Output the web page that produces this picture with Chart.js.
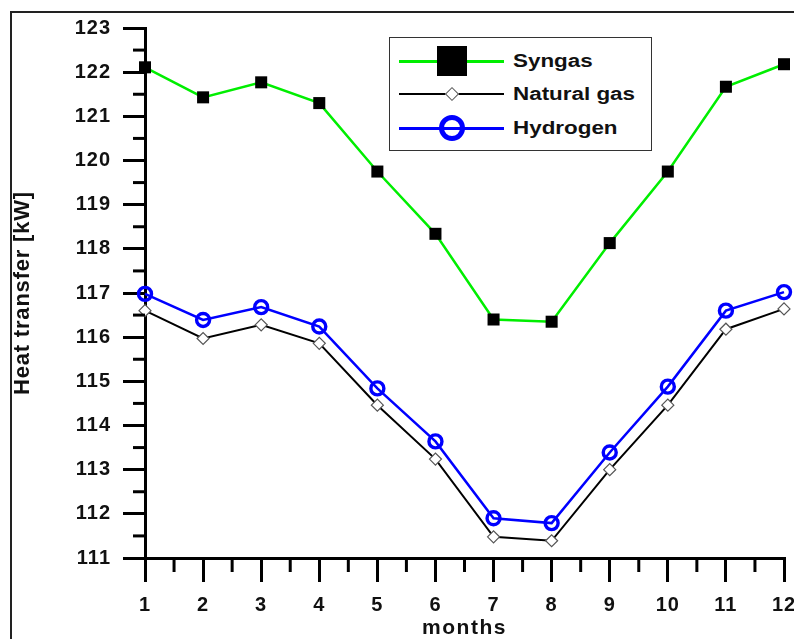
<!DOCTYPE html>
<html><head><meta charset="utf-8">
<script src="https://cdn.jsdelivr.net/npm/chart.js@4/dist/chart.umd.min.js"></script>
<style>
html,body{margin:0;padding:0;background:#fff;}
#wrap{position:relative;width:794px;height:639px;overflow:hidden;background:#fff;}
#frame{position:absolute;left:10px;top:11px;width:900px;height:900px;border:2px solid #222;box-sizing:border-box;}
#c{position:absolute;left:0;top:0;}
#legend{position:absolute;left:389px;top:37px;width:263px;height:114px;border:1.5px solid #333;box-sizing:border-box;background:#fff;font-family:'Liberation Sans',Arial,sans-serif;font-weight:bold;color:#111;}
.row{position:absolute;left:0;width:100%;height:0;}
.ln{position:absolute;left:9px;width:105px;height:3px;top:-1.5px;}
.mk{position:absolute;box-sizing:border-box;}
.tx{position:absolute;left:123px;top:-11px;font-size:17.5px;line-height:22px;white-space:nowrap;transform:scaleX(1.28);transform-origin:left center;}
</style>
</head><body>
<div id="wrap">
<div id="frame"></div>
<canvas id="c" width="794" height="639"></canvas>
<div id="legend">
  <div class="row" style="top:23px"><div class="ln" style="background:#00ee00"></div><div class="mk" style="left:47px;top:-15px;width:30px;height:30px;background:#000"></div><div class="tx">Syngas</div></div>
  <div class="row" style="top:56px"><div class="ln" style="background:#000;height:2.5px"></div><div class="mk" style="left:57px;top:-5px;width:10px;height:10px;background:#fff;border:1.3px solid #555;transform:rotate(45deg)"></div><div class="tx">Natural gas</div></div>
  <div class="row" style="top:90px"><div class="ln" style="background:#0000ff"></div><div class="mk" style="left:49px;top:-13px;width:26px;height:26px;border-radius:50%;border:5px solid #0000ff"></div><div class="tx">Hydrogen</div></div>
</div>
</div>
<script>
const months = [1,2,3,4,5,6,7,8,9,10,11,12];
const syngas = [122.11,121.43,121.77,121.30,119.75,118.34,116.40,116.35,118.13,119.75,121.67,122.18];
const naturalGas = [116.60,115.97,116.28,115.86,114.46,113.24,111.48,111.39,113.00,114.46,116.18,116.64];
const hydrogen = [116.98,116.39,116.68,116.24,114.84,113.64,111.90,111.79,113.39,114.88,116.60,117.02];
const xTicks = [1,2,3,4,5,6,7,8,9,10,11,12];
const yTicks = [111,112,113,114,115,116,117,118,119,120,121,122,123];
const xMinor = [1.5,2.5,3.5,4.5,5.5,6.5,7.5,8.5,9.5,10.5,11.5];
const yMinor = [111.5,112.5,113.5,114.5,115.5,116.5,117.5,118.5,119.5,120.5,121.5,122.5];

const pts = arr => months.map((m,i)=>({x:m,y:arr[i]}));

const minorTicks = {
  id:'minorTicks',
  afterDraw(chart){
    const {ctx, scales:{x,y}} = chart;
    ctx.save();
    ctx.strokeStyle='#000'; ctx.lineWidth=3; ctx.lineCap='butt';
    yMinor.forEach(v=>{const py=y.getPixelForValue(v);ctx.beginPath();ctx.moveTo(y.right-12,py);ctx.lineTo(y.right,py);ctx.stroke();});
    xMinor.forEach(v=>{const px=x.getPixelForValue(v);ctx.beginPath();ctx.moveTo(px,x.top);ctx.lineTo(px,x.top+14);ctx.stroke();});
    ctx.restore();
  }
};

// widen axis text slightly (letter spacing) like the original figure
const spacing = {
  id:'spacing',
  afterLayout(chart){
    const ctx = chart.ctx;
    const wrap = (s, fn, ls) => {
      const key = '_w_'+fn;
      if (s[key]) return;
      const orig = s[fn].bind(s);
      s[fn] = function(...a){ ctx.save(); ctx.letterSpacing = ls; orig(...a); ctx.restore(); };
      s[key] = true;
    };
    wrap(chart.scales.x, 'drawTitle', '1.5px');
    wrap(chart.scales.y, 'drawTitle', '0.8px');
    wrap(chart.scales.x, 'drawLabels', '1px');
    wrap(chart.scales.y, 'drawLabels', '1px');
  }
};

Chart.defaults.font.family = "'Liberation Sans', Arial, sans-serif";
Chart.defaults.color = '#111';

new Chart(document.getElementById('c'), {
  type:'line',
  data:{datasets:[
    {label:'Syngas', data:pts(syngas), borderColor:'#00ee00', borderWidth:2.5, pointStyle:'rect', pointRadius:8.5, pointBackgroundColor:'#000', pointBorderColor:'#000', pointBorderWidth:0, clip:false},
    {label:'Natural gas', data:pts(naturalGas), borderColor:'#000', borderWidth:2, pointStyle:'rectRot', pointRadius:6, pointBackgroundColor:'#fff', pointBorderColor:'#555', pointBorderWidth:1.2, clip:false},
    {label:'Hydrogen', data:pts(hydrogen), borderColor:'#0000ff', borderWidth:2.5, pointStyle:'circle', pointRadius:6.5, pointBackgroundColor:'rgba(0,0,0,0)', pointBorderColor:'#0000ff', pointBorderWidth:3.4, clip:false}
  ]},
  options:{
    responsive:false, animation:false, devicePixelRatio:1,
    layout:{padding:{top:28,right:10,left:0,bottom:0}},
    plugins:{legend:{display:false}, tooltip:{enabled:false}},
    elements:{line:{tension:0}},
    scales:{
      x:{type:'linear', min:1, max:12,
        afterBuildTicks:s=>{s.ticks=xTicks.map(v=>({value:v}));},
        afterFit:s=>{s.height=81; s.paddingRight=0; s.paddingLeft=0;},
        grid:{drawOnChartArea:false, drawTicks:true, tickLength:24, lineWidth:3, color:'#000'},
        border:{display:true, width:3, color:'#000'},
        ticks:{font:{size:20, weight:'bold'}, padding:11, maxRotation:0, color:'#111'},
        title:{display:true, text:'months', font:{size:21, weight:'bold', lineHeight:1}, padding:{top:0,bottom:0}, color:'#111'}
      },
      y:{type:'linear', min:111, max:123,
        afterBuildTicks:s=>{s.ticks=yTicks.map(v=>({value:v}));},
        afterFit:s=>{s.width=145;},
        grid:{drawOnChartArea:false, drawTicks:true, tickLength:22, lineWidth:3, color:'#000'},
        border:{display:true, width:3, color:'#000'},
        ticks:{font:{size:20, weight:'bold'}, padding:12, color:'#111'},
        title:{display:true, text:'Heat transfer [kW]', font:{size:22, weight:'bold', lineHeight:1}, padding:{top:12,bottom:0}, color:'#111'}
      }
    }
  },
  plugins:[minorTicks, spacing]
});
</script>
</body></html>
